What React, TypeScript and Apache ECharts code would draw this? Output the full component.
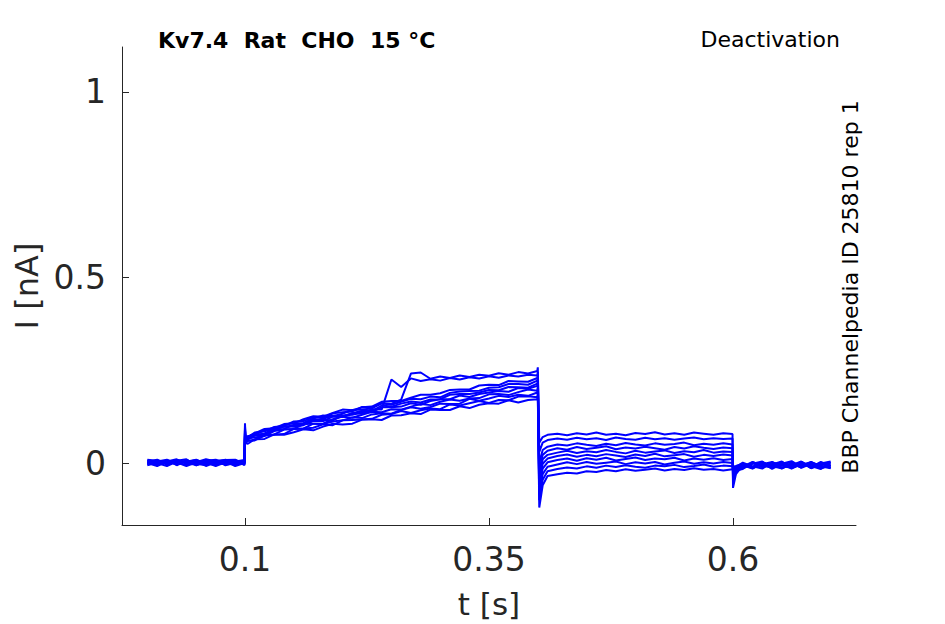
import React, { useEffect, useRef } from "react";
import * as echarts from "echarts";

// time samples (s) for each protocol segment
const tBase = [0, 0.01, 0.02, 0.03, 0.04, 0.05, 0.06, 0.07, 0.08, 0.09, 0.0995];
const tAct = [
  0.1, 0.1005, 0.103, 0.11, 0.12, 0.13, 0.14, 0.15, 0.16, 0.17, 0.18, 0.19, 0.2, 0.21, 0.22, 0.23,
  0.24, 0.25, 0.26, 0.27, 0.28, 0.29, 0.3, 0.31, 0.32, 0.33, 0.34, 0.35, 0.36, 0.37, 0.38, 0.39, 0.3995,
];
const tDeact = [
  0.4, 0.4015, 0.405, 0.41, 0.42, 0.43, 0.44, 0.45, 0.46, 0.47, 0.48, 0.49, 0.5, 0.51, 0.52, 0.53,
  0.54, 0.55, 0.56, 0.57, 0.58, 0.59, 0.5995,
];
const tTail = [0.6, 0.603, 0.61, 0.62, 0.63, 0.64, 0.65, 0.66, 0.67, 0.68, 0.69, 0.7];

// current (nA), one row per sweep
const baseline = [
  [0.004, -0.006, 0.008, 0.0, -0.005, 0.006, -0.008, 0.002, 0.009, -0.004, 0.002],
  [-0.002, 0.008, -0.004, 0.006, 0.01, -0.006, 0.004, -0.002, 0.0, 0.008, -0.006],
  [0.006, 0.0, -0.008, 0.004, 0.002, 0.009, -0.004, 0.008, -0.006, 0.002, 0.004],
  [0.0, 0.004, 0.009, -0.006, 0.006, 0.0, 0.008, -0.004, 0.004, -0.008, 0.0],
  [-0.006, 0.002, 0.004, 0.01, -0.002, -0.004, 0.006, 0.009, -0.002, 0.006, -0.004],
  [0.008, -0.004, 0.002, -0.002, 0.004, 0.008, 0.0, -0.006, 0.006, 0.004, 0.008],
  [0.002, 0.009, -0.002, 0.002, -0.008, 0.002, 0.01, 0.004, -0.004, -0.002, 0.006],
  [-0.004, 0.0, 0.006, -0.004, 0.008, -0.002, -0.006, 0.006, 0.008, 0.009, -0.002],
  [0.009, 0.006, 0.0, 0.008, 0.0, 0.004, 0.002, -0.008, 0.002, 0.0, 0.004],
  [0.0, -0.008, 0.004, 0.002, 0.006, -0.006, 0.004, 0.0, -0.002, 0.006, 0.0],
];

const activation = [
  [0.07, 0.054, 0.052, 0.064, 0.065, 0.077, 0.076, 0.083, 0.091, 0.088, 0.098, 0.106, 0.104, 0.106, 0.117, 0.118, 0.116, 0.128, 0.129, 0.134, 0.132, 0.144, 0.143, 0.143, 0.153, 0.148, 0.157, 0.161, 0.16, 0.169, 0.163, 0.17, 0.172],
  [0.075, 0.053, 0.06, 0.061, 0.074, 0.076, 0.078, 0.092, 0.093, 0.095, 0.104, 0.102, 0.115, 0.116, 0.117, 0.119, 0.13, 0.132, 0.14, 0.135, 0.142, 0.147, 0.145, 0.158, 0.155, 0.161, 0.167, 0.162, 0.17, 0.169, 0.179, 0.18, 0.177],
  [0.08, 0.059, 0.06, 0.063, 0.075, 0.077, 0.09, 0.092, 0.093, 0.106, 0.105, 0.112, 0.115, 0.123, 0.121, 0.131, 0.134, 0.133, 0.143, 0.15, 0.146, 0.151, 0.16, 0.159, 0.16, 0.173, 0.168, 0.174, 0.181, 0.178, 0.184, 0.181, 0.19],
  [0.072, 0.059, 0.067, 0.069, 0.073, 0.086, 0.091, 0.092, 0.105, 0.106, 0.106, 0.118, 0.125, 0.122, 0.13, 0.138, 0.137, 0.145, 0.144, 0.152, 0.159, 0.156, 0.165, 0.171, 0.168, 0.174, 0.175, 0.185, 0.186, 0.183, 0.191, 0.198, 0.195],
  [0.09, 0.059, 0.065, 0.074, 0.075, 0.088, 0.099, 0.098, 0.102, 0.114, 0.116, 0.115, 0.128, 0.13, 0.137, 0.137, 0.15, 0.15, 0.152, 0.161, 0.157, 0.167, 0.172, 0.172, 0.182, 0.178, 0.186, 0.19, 0.194, 0.192, 0.202, 0.2, 0.208],
  [0.085, 0.064, 0.065, 0.076, 0.079, 0.094, 0.098, 0.101, 0.104, 0.116, 0.119, 0.128, 0.126, 0.134, 0.141, 0.14, 0.155, 0.152, 0.16, 0.166, 0.163, 0.171, 0.172, 0.184, 0.186, 0.186, 0.19, 0.197, 0.196, 0.205, 0.204, 0.203, 0.214],
  [0.095, 0.065, 0.072, 0.076, 0.089, 0.089, 0.103, 0.107, 0.108, 0.12, 0.128, 0.126, 0.133, 0.143, 0.144, 0.147, 0.161, 0.157, 0.165, 0.173, 0.172, 0.179, 0.177, 0.189, 0.193, 0.194, 0.195, 0.203, 0.204, 0.213, 0.213, 0.211, 0.222],
  [0.1, 0.073, 0.071, 0.08, 0.092, 0.094, 0.105, 0.107, 0.118, 0.126, 0.125, 0.135, 0.144, 0.142, 0.15, 0.152, 0.165, 0.167, 0.167, 0.176, 0.184, 0.184, 0.188, 0.197, 0.198, 0.198, 0.209, 0.211, 0.21, 0.221, 0.22, 0.219, 0.229],
  [0.088, 0.064, 0.064, 0.075, 0.078, 0.09, 0.092, 0.103, 0.104, 0.114, 0.113, 0.125, 0.124, 0.134, 0.133, 0.145, 0.144, 0.225, 0.205, 0.228, 0.221, 0.226, 0.222, 0.229, 0.225, 0.231, 0.228, 0.234, 0.23, 0.236, 0.233, 0.238, 0.236],
  [0.107, 0.07, 0.069, 0.082, 0.085, 0.097, 0.1, 0.112, 0.113, 0.124, 0.122, 0.134, 0.137, 0.139, 0.151, 0.15, 0.161, 0.16, 0.171, 0.241, 0.244, 0.227, 0.233, 0.229, 0.236, 0.232, 0.238, 0.235, 0.242, 0.238, 0.245, 0.241, 0.248],
];

const deactivation = [
  [0.18, -0.12, -0.06, -0.035, -0.03, -0.026, -0.028, -0.022, -0.024, -0.019, -0.022, -0.017, -0.021, -0.018, -0.015, -0.02, -0.016, -0.019, -0.014, -0.018, -0.016, -0.02, -0.017],
  [0.186, -0.1, -0.045, -0.022, -0.016, -0.012, -0.015, -0.009, -0.013, -0.007, -0.011, -0.006, -0.01, -0.013, -0.007, -0.009, -0.005, -0.011, -0.008, -0.004, -0.01, -0.007, -0.009],
  [0.197, -0.085, -0.03, -0.01, -0.004, 0.002, -0.003, 0.003, -0.002, 0.001, 0.004, -0.003, 0.002, -0.001, 0.003, -0.004, 0.001, 0.004, -0.002, 0.002, -0.001, 0.003, 0.0],
  [0.203, -0.07, -0.015, 0.002, 0.008, 0.012, 0.006, 0.013, 0.009, 0.014, 0.007, 0.011, 0.015, 0.008, 0.012, 0.01, 0.014, 0.007, 0.012, 0.009, 0.013, 0.008, 0.011],
  [0.215, -0.055, -0.002, 0.012, 0.019, 0.023, 0.017, 0.022, 0.018, 0.024, 0.02, 0.016, 0.023, 0.019, 0.025, 0.018, 0.021, 0.024, 0.017, 0.022, 0.019, 0.023, 0.02],
  [0.222, -0.04, 0.01, 0.022, 0.028, 0.033, 0.027, 0.032, 0.029, 0.035, 0.03, 0.026, 0.033, 0.028, 0.031, 0.034, 0.027, 0.032, 0.029, 0.035, 0.028, 0.031, 0.03],
  [0.23, -0.02, 0.022, 0.033, 0.04, 0.036, 0.043, 0.038, 0.041, 0.045, 0.037, 0.042, 0.039, 0.044, 0.04, 0.036, 0.043, 0.039, 0.045, 0.041, 0.038, 0.042, 0.04],
  [0.237, 0.0, 0.035, 0.044, 0.05, 0.047, 0.053, 0.049, 0.046, 0.052, 0.048, 0.054, 0.05, 0.047, 0.053, 0.049, 0.051, 0.055, 0.048, 0.052, 0.049, 0.053, 0.05],
  [0.245, 0.03, 0.055, 0.062, 0.066, 0.063, 0.068, 0.064, 0.067, 0.062, 0.069, 0.065, 0.063, 0.068, 0.064, 0.067, 0.063, 0.066, 0.069, 0.064, 0.067, 0.065, 0.066],
  [0.258, 0.055, 0.07, 0.076, 0.079, 0.075, 0.08, 0.077, 0.082, 0.076, 0.079, 0.075, 0.081, 0.078, 0.083, 0.077, 0.08, 0.076, 0.082, 0.079, 0.076, 0.08, 0.078],
];

const tail = [
  [-0.01, -0.008, -0.002, -0.012, 0.002, -0.009, -0.014, 0.001, -0.008, 0.003, -0.011, -0.004],
  [-0.012, -0.01, -0.013, 0.0, -0.01, -0.003, -0.015, -0.002, -0.012, 0.002, -0.007, -0.013],
  [-0.016, -0.011, 0.001, -0.009, -0.015, 0.002, -0.006, -0.014, -0.001, -0.011, 0.003, -0.008],
  [-0.02, -0.013, -0.01, 0.003, -0.007, -0.013, 0.001, -0.01, 0.002, -0.014, -0.004, 0.001],
  [-0.025, -0.015, -0.014, -0.002, 0.004, -0.012, -0.005, 0.003, -0.013, -0.002, -0.015, -0.006],
  [-0.03, -0.017, -0.004, -0.014, -0.003, 0.003, -0.012, -0.006, 0.004, -0.01, 0.0, -0.013],
  [-0.038, -0.02, -0.016, 0.001, -0.011, -0.004, 0.004, -0.015, -0.003, -0.008, -0.016, 0.002],
  [-0.045, -0.022, -0.003, -0.01, 0.002, -0.016, -0.002, 0.005, -0.011, 0.001, -0.009, -0.014],
  [-0.055, -0.025, -0.012, 0.002, -0.006, 0.001, -0.013, -0.007, 0.003, -0.014, -0.001, 0.004],
  [-0.067, -0.03, -0.006, -0.015, 0.001, -0.008, 0.003, -0.012, -0.005, 0.002, -0.012, -0.007],
];

const xTicks = [0.1, 0.35, 0.6];
const yTicks = [0, 0.5, 1];

const titleText = "Kv7.4  Rat  CHO  15 °C";
const protocolText = "Deactivation";
const sourceText = "BBP Channelpedia ID 25810 rep 1";

const FONT = '"DejaVu Sans", "Liberation Sans", sans-serif';
const AX = "#262626";

function zip(ts: number[], vs: number[]): number[][] {
  const n = Math.min(ts.length, vs.length);
  const out: number[][] = [];
  for (let i = 0; i < n; i++) out.push([ts[i], vs[i]]);
  return out;
}

export default function App() {
  const ref = useRef<HTMLDivElement>(null);
  useEffect(() => {
    if (!ref.current) return;
    const chart = echarts.init(ref.current, undefined, { renderer: "svg" });
    const series = baseline.map((_, k) => ({
      type: "line",
      silent: true,
      showSymbol: false,
      symbol: "none",
      lineStyle: { color: "#0000ff", width: 2 },
      data: [
        ...zip(tBase, baseline[k]),
        ...zip(tAct, activation[k]),
        ...zip(tDeact, deactivation[k]),
        ...zip(tTail, tail[k]),
      ],
    }));
    const axisCommon = {
      type: "value",
      splitLine: { show: false },
      axisLine: { show: true, onZero: false, lineStyle: { color: AX, width: 1 } },
      nameLocation: "middle",
    };
    chart.setOption({
      animation: false,
      grid: { left: 122, right: 89, top: 47, bottom: 98, containLabel: false },
      xAxis: {
        ...axisCommon,
        min: -0.026,
        max: 0.726,
        name: "t [s]",
        nameGap: 63,
        nameTextStyle: { fontFamily: FONT, fontSize: 31, color: AX },
        axisTick: { show: true, inside: true, length: 7, customValues: xTicks, lineStyle: { color: AX } },
        axisLabel: {
          customValues: xTicks,
          fontFamily: FONT,
          fontSize: 33,
          color: AX,
          margin: 18,
          formatter: (v: number) => String(v),
        },
      },
      yAxis: {
        ...axisCommon,
        min: -0.167,
        max: 1.121,
        name: "I [nA]",
        nameGap: 56,
        nameTextStyle: { fontFamily: FONT, fontSize: 32, color: AX },
        axisTick: { show: true, inside: true, length: 7, customValues: yTicks, lineStyle: { color: AX } },
        axisLabel: {
          customValues: yTicks,
          fontFamily: FONT,
          fontSize: 33,
          color: AX,
          margin: 16,
          formatter: (v: number) => String(v),
        },
      },
      graphic: [
        {
          type: "text",
          x: 158,
          y: 40,
          style: {
            text: titleText,
            font: `bold 22px ${FONT}`,
            fill: "#000",
            align: "left",
            verticalAlign: "middle",
          },
        },
        {
          type: "text",
          x: 840,
          y: 39,
          style: {
            text: protocolText,
            font: `22px ${FONT}`,
            fill: "#000",
            align: "right",
            verticalAlign: "middle",
          },
        },
        {
          type: "text",
          x: 850,
          y: 287,
          rotation: Math.PI / 2,
          style: {
            text: sourceText,
            font: `22px ${FONT}`,
            fill: "#000",
            align: "center",
            verticalAlign: "middle",
          },
        },
      ],
      series,
    });
    return () => chart.dispose();
  }, []);
  return (
    <div
      ref={ref}
      style={{ position: "absolute", left: 0, top: 0, width: 945, height: 624, background: "#fff" }}
    />
  );
}
